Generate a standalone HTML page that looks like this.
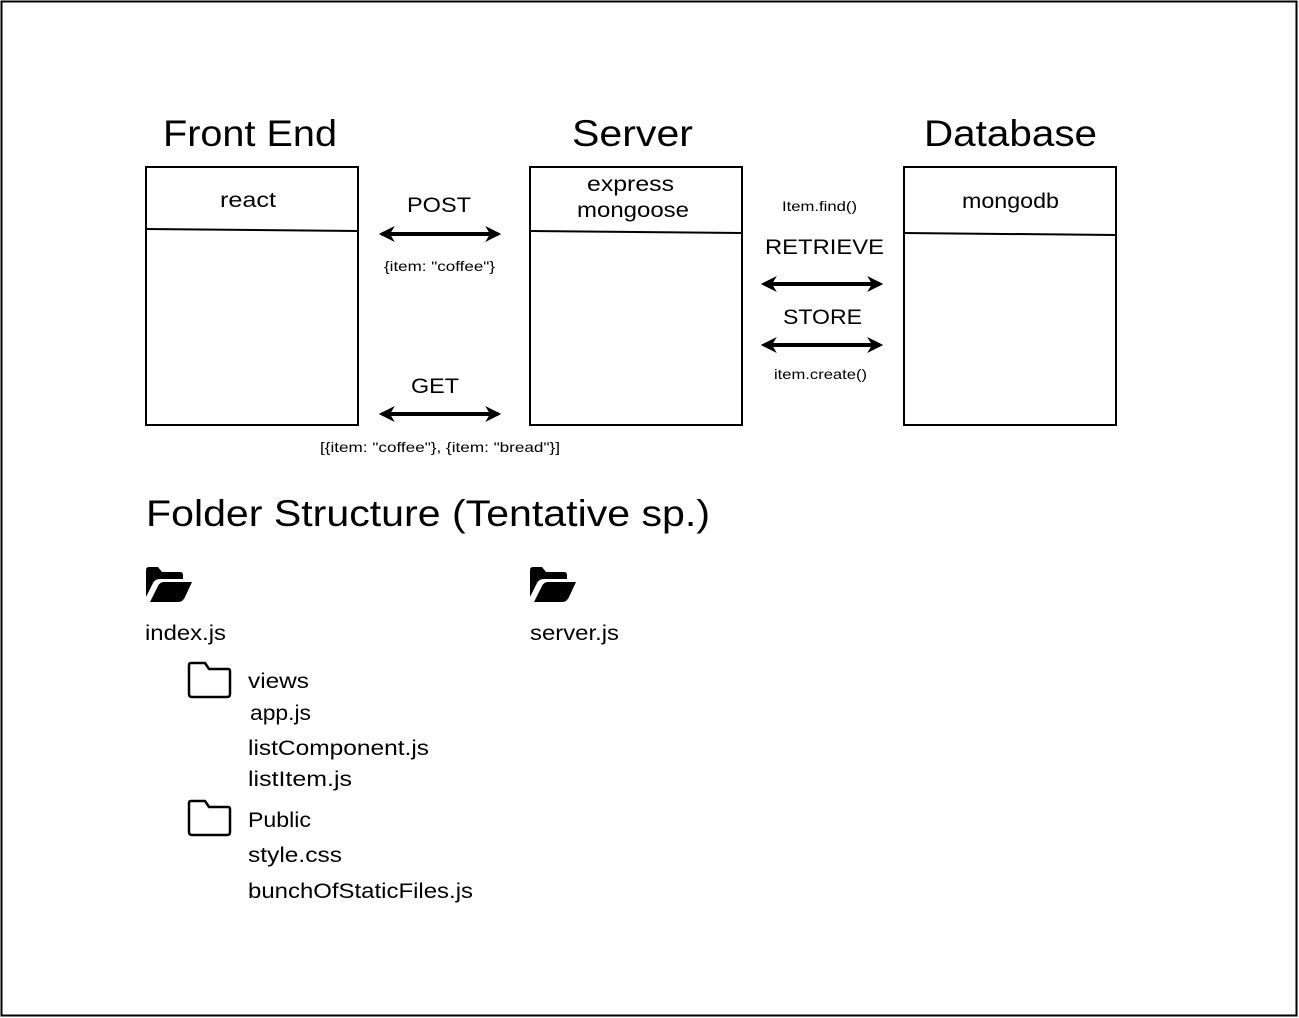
<!DOCTYPE html>
<html><head><meta charset="utf-8"><style>
html,body{margin:0;padding:0;background:#fff}
svg{display:block}
text{font-family:"Liberation Sans","DejaVu Sans",sans-serif;fill:#000}
</style></head><body>
<svg width="1299" height="1018" viewBox="0 0 1299 1018" xmlns="http://www.w3.org/2000/svg">
<defs>
<marker id="ah" viewBox="0 0 10 10" refX="8" refY="5" markerWidth="4" markerHeight="4" orient="auto-start-reverse">
<path d="M0,0 L10,5 L0,10 L3,5 Z" fill="#000"/>
</marker>
</defs>
<rect x="1.5" y="1.5" width="1295" height="1014" fill="#fff" stroke="#000" stroke-width="2"/>

<g lengthAdjust="spacingAndGlyphs">
<text x="163" y="146" font-size="37" textLength="174" lengthAdjust="spacingAndGlyphs">Front End</text>
<text x="572" y="146" font-size="37" textLength="121" lengthAdjust="spacingAndGlyphs">Server</text>
<text x="924" y="146" font-size="37" textLength="173" lengthAdjust="spacingAndGlyphs">Database</text>
</g>

<g fill="none" stroke="#000" stroke-width="2">
<rect x="146" y="167" width="212" height="258"/>
<line x1="146" y1="229" x2="358" y2="231"/>
<rect x="530" y="167" width="212" height="258"/>
<line x1="530" y1="231" x2="742" y2="233"/>
<rect x="904" y="167" width="212" height="258"/>
<line x1="904" y1="233" x2="1116" y2="235"/>
</g>
<text x="220" y="207" font-size="21" textLength="56" lengthAdjust="spacingAndGlyphs">react</text>
<text x="587" y="191" font-size="21" textLength="87" lengthAdjust="spacingAndGlyphs">express</text>
<text x="577" y="217" font-size="21" textLength="112" lengthAdjust="spacingAndGlyphs">mongoose</text>
<text x="962" y="208" font-size="21" textLength="97" lengthAdjust="spacingAndGlyphs">mongodb</text>

<g stroke="#000" stroke-width="4" marker-start="url(#ah)" marker-end="url(#ah)">
<line x1="382" y1="234" x2="498" y2="234"/>
<line x1="382" y1="414" x2="498" y2="414"/>
<line x1="764" y1="284" x2="880" y2="284"/>
<line x1="764" y1="345" x2="880" y2="345"/>
</g>
<text x="407" y="212" font-size="21" textLength="64" lengthAdjust="spacingAndGlyphs">POST</text>
<text x="384" y="271" font-size="14" textLength="111" lengthAdjust="spacingAndGlyphs">{item: "coffee"}</text>
<text x="411" y="393" font-size="21" textLength="48" lengthAdjust="spacingAndGlyphs">GET</text>
<text x="320" y="452" font-size="14" textLength="240" lengthAdjust="spacingAndGlyphs">[{item: "coffee"}, {item: "bread"}]</text>
<text x="782" y="211" font-size="14" textLength="75" lengthAdjust="spacingAndGlyphs">Item.find()</text>
<text x="765" y="254" font-size="21" textLength="119" lengthAdjust="spacingAndGlyphs">RETRIEVE</text>
<text x="783" y="324" font-size="21" textLength="79" lengthAdjust="spacingAndGlyphs">STORE</text>
<text x="774" y="379" font-size="14" textLength="93" lengthAdjust="spacingAndGlyphs">item.create()</text>

<text x="146" y="526" font-size="37" textLength="564" lengthAdjust="spacingAndGlyphs">Folder Structure (Tentative sp.)</text>

<g fill="#000">
<path d="M146,570 Q146,567 149,567 L158,567 L162,572 L180,572 Q183,572 183,575 L183,579 L160,579 Q155,579 153,583 L146,597 Z"/>
<path d="M150,602 L158,586 Q160,582 164,582 L192,582 L185,597 Q183,602 178,602 Z"/>
<path d="M530,570 Q530,567 533,567 L542,567 L546,572 L564,572 Q567,572 567,575 L567,579 L544,579 Q539,579 537,583 L530,597 Z"/>
<path d="M534,602 L542,586 Q544,582 548,582 L576,582 L569,597 Q567,602 562,602 Z"/>
</g>
<g fill="none" stroke="#000" stroke-width="2.5" stroke-linejoin="round">
<path d="M189,665 Q189,663 191,663 L205,663 L209,669 L228,669 Q230,669 230,671 L230,694 Q230,697 227,697 L192,697 Q189,697 189,694 Z"/>
<path d="M189,803 Q189,801 191,801 L205,801 L209,807 L228,807 Q230,807 230,809 L230,832 Q230,835 227,835 L192,835 Q189,835 189,832 Z"/>
</g>

<g font-size="21">
<text x="145" y="640" textLength="81" lengthAdjust="spacingAndGlyphs">index.js</text>
<text x="530" y="640" textLength="89" lengthAdjust="spacingAndGlyphs">server.js</text>
<text x="248" y="688" textLength="61" lengthAdjust="spacingAndGlyphs">views</text>
<text x="250" y="720" textLength="61" lengthAdjust="spacingAndGlyphs">app.js</text>
<text x="248" y="755" textLength="181" lengthAdjust="spacingAndGlyphs">listComponent.js</text>
<text x="248" y="786" textLength="104" lengthAdjust="spacingAndGlyphs">listItem.js</text>
<text x="248" y="827" textLength="63" lengthAdjust="spacingAndGlyphs">Public</text>
<text x="248" y="862" textLength="94" lengthAdjust="spacingAndGlyphs">style.css</text>
<text x="248" y="898" textLength="225" lengthAdjust="spacingAndGlyphs">bunchOfStaticFiles.js</text>
</g>
</svg>
</body></html>
